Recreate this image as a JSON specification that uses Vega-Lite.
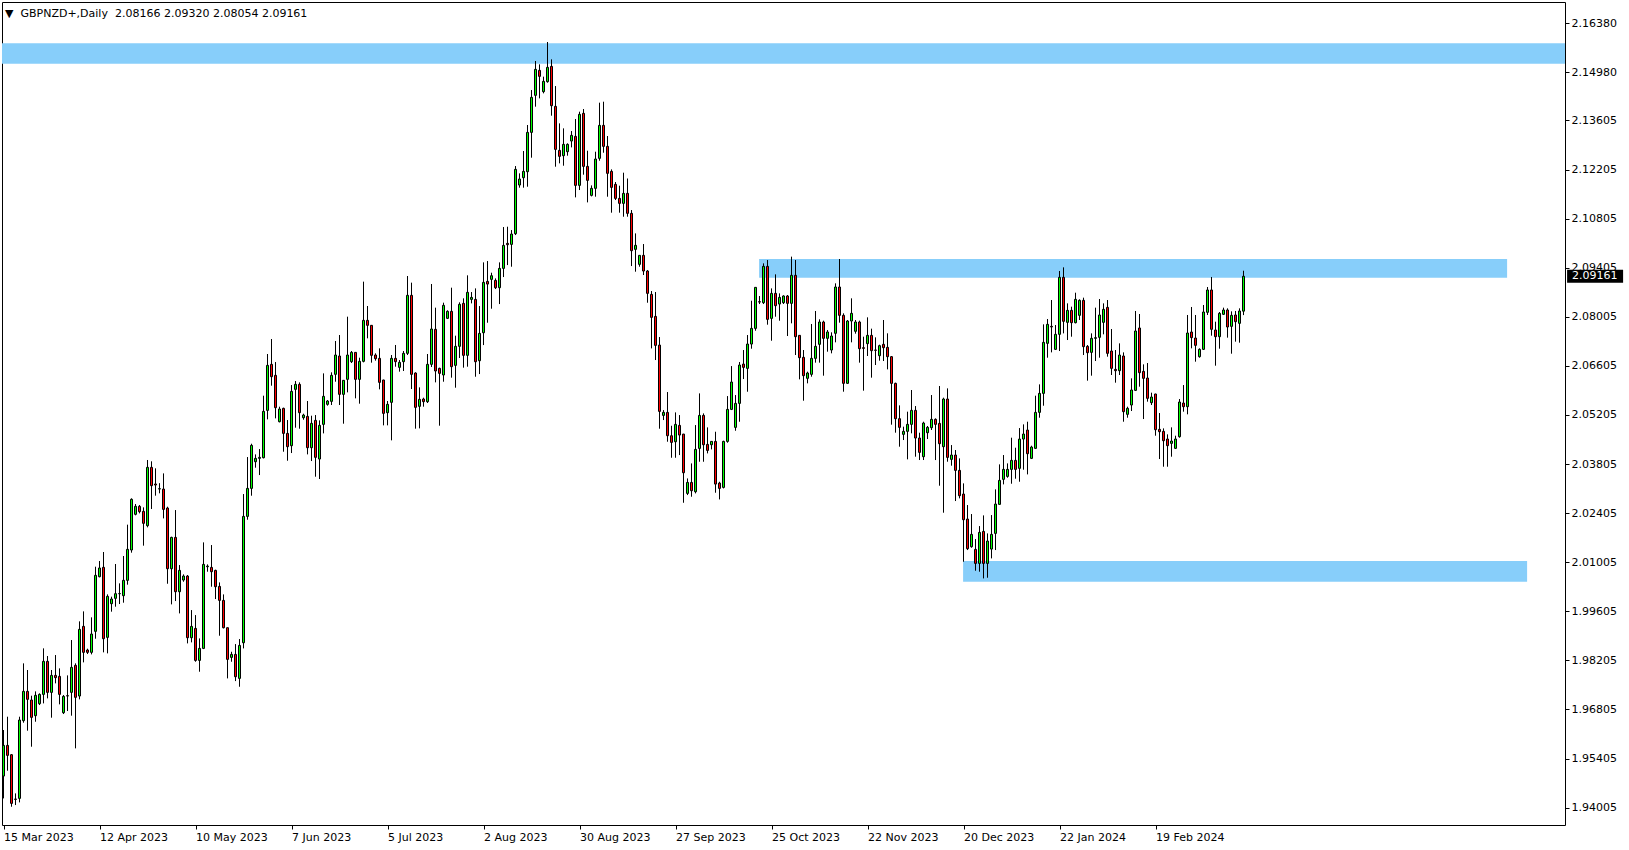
{
  "$schema": "https://vega.github.io/schema/vega-lite/v6.json",
  "width": 1563,
  "height": 823,
  "padding": {"left": 2, "top": 2, "right": 64, "bottom": 25},
  "autosize": {"type": "none"},
  "background": "white",
  "config": {
    "view": {"stroke": "black", "strokeWidth": 1},
    "font": "DejaVu Sans",
    "axis": {
      "labelFont": "DejaVu Sans",
      "labelFontSize": 11,
      "labelColor": "black",
      "labelPadding": 2,
      "labelOverlap": false,
      "labelFlush": false,
      "tickColor": "black",
      "tickSize": 4,
      "domain": false,
      "grid": false
    }
  },
  "title": {
    "text": "▼\u00a0\u00a0GBPNZD+,Daily\u00a0\u00a02.08166 2.09320 2.08054 2.09161",
    "anchor": "start",
    "frame": "group",
    "orient": "top",
    "offset": -26,
    "dx": 3,
    "font": "DejaVu Sans",
    "fontSize": 11,
    "fontWeight": "normal",
    "color": "black",
    "baseline": "alphabetic"
  },
  "datasets": {
    "candles": [
      {"i":0,"o":1.94905,"h":1.96218,"l":1.94268,"c":1.95780},
      {"i":1,"o":1.95780,"h":1.96598,"l":1.95057,"c":1.95495},
      {"i":2,"o":1.95514,"h":1.95533,"l":1.94030,"c":1.94126},
      {"i":3,"o":1.94249,"h":1.94411,"l":1.94078,"c":1.94240},
      {"i":4,"o":1.94268,"h":1.96598,"l":1.94154,"c":1.96503},
      {"i":5,"o":1.96484,"h":1.98120,"l":1.96427,"c":1.97321},
      {"i":6,"o":1.97321,"h":1.97930,"l":1.96199,"c":1.97093},
      {"i":7,"o":1.97074,"h":1.97197,"l":1.95742,"c":1.96579},
      {"i":8,"o":1.96627,"h":1.97321,"l":1.96455,"c":1.97207},
      {"i":9,"o":1.96969,"h":1.97264,"l":1.96931,"c":1.97235},
      {"i":10,"o":1.97235,"h":1.98548,"l":1.96978,"c":1.98177},
      {"i":11,"o":1.98177,"h":1.98329,"l":1.97121,"c":1.97292},
      {"i":12,"o":1.97292,"h":1.97930,"l":1.96570,"c":1.97777},
      {"i":13,"o":1.97777,"h":1.98357,"l":1.97549,"c":1.97711},
      {"i":14,"o":1.97749,"h":1.97977,"l":1.96950,"c":1.97235},
      {"i":15,"o":1.96712,"h":1.97216,"l":1.96674,"c":1.97178},
      {"i":16,"o":1.97197,"h":1.97777,"l":1.96760,"c":1.97190},
      {"i":17,"o":1.97292,"h":1.98785,"l":1.96627,"c":1.98006},
      {"i":18,"o":1.98063,"h":1.98120,"l":1.95695,"c":1.97150},
      {"i":19,"o":1.97188,"h":1.99318,"l":1.97093,"c":1.99090},
      {"i":20,"o":1.99175,"h":1.99603,"l":1.98148,"c":1.98434},
      {"i":21,"o":1.98500,"h":1.98538,"l":1.98386,"c":1.98434},
      {"i":22,"o":1.98434,"h":1.99432,"l":1.98376,"c":1.98956},
      {"i":23,"o":1.99033,"h":2.00877,"l":1.98823,"c":2.00630},
      {"i":24,"o":2.00592,"h":2.01039,"l":2.00573,"c":2.00840},
      {"i":25,"o":2.00859,"h":2.01296,"l":1.98434,"c":1.98823},
      {"i":26,"o":1.98861,"h":2.00088,"l":1.98405,"c":2.00031},
      {"i":27,"o":1.99822,"h":2.00022,"l":1.99594,"c":1.99955},
      {"i":28,"o":1.99974,"h":2.00954,"l":1.99736,"c":2.00107},
      {"i":29,"o":2.00107,"h":2.00402,"l":1.99812,"c":2.00110},
      {"i":30,"o":2.00050,"h":2.01182,"l":1.99850,"c":2.00488},
      {"i":31,"o":2.00488,"h":2.02076,"l":2.00364,"c":2.01372},
      {"i":32,"o":2.01353,"h":2.02827,"l":2.01277,"c":2.02799},
      {"i":33,"o":2.02371,"h":2.02665,"l":2.02342,"c":2.02599},
      {"i":34,"o":2.02599,"h":2.02637,"l":2.02399,"c":2.02447},
      {"i":35,"o":2.02456,"h":2.02570,"l":2.01477,"c":2.02114},
      {"i":36,"o":2.02047,"h":2.03921,"l":2.02000,"c":2.03711},
      {"i":37,"o":2.03711,"h":2.03883,"l":2.02523,"c":2.03188},
      {"i":38,"o":2.03236,"h":2.03683,"l":2.02903,"c":2.03207},
      {"i":39,"o":2.03093,"h":2.03260,"l":2.02970,"c":2.03102},
      {"i":40,"o":2.03092,"h":2.03539,"l":2.02255,"c":2.02512},
      {"i":41,"o":2.02550,"h":2.02588,"l":2.00391,"c":2.00819},
      {"i":42,"o":2.00819,"h":2.01732,"l":1.99802,"c":2.01713},
      {"i":43,"o":2.01713,"h":2.02493,"l":1.99897,"c":2.00163},
      {"i":44,"o":2.00163,"h":2.00924,"l":1.99545,"c":2.00772},
      {"i":45,"o":2.00496,"h":2.00658,"l":2.00448,"c":2.00610},
      {"i":46,"o":2.00610,"h":2.00639,"l":1.98689,"c":1.98851},
      {"i":47,"o":1.98851,"h":1.99640,"l":1.98718,"c":1.99174},
      {"i":48,"o":1.99117,"h":1.99497,"l":1.98166,"c":1.98204},
      {"i":49,"o":1.98204,"h":1.98832,"l":1.97881,"c":1.98546},
      {"i":50,"o":1.98546,"h":2.01571,"l":1.98527,"c":2.00943},
      {"i":51,"o":2.00876,"h":2.00943,"l":2.00734,"c":2.00895},
      {"i":52,"o":2.00857,"h":2.01495,"l":2.00306,"c":2.00734},
      {"i":53,"o":2.00772,"h":2.00791,"l":1.99954,"c":2.00306},
      {"i":54,"o":2.00315,"h":2.00429,"l":1.98908,"c":1.99916},
      {"i":55,"o":1.99916,"h":2.00087,"l":1.99117,"c":1.99136},
      {"i":56,"o":1.99136,"h":1.99140,"l":1.97691,"c":1.98233},
      {"i":57,"o":1.98290,"h":1.98451,"l":1.98166,"c":1.98375},
      {"i":58,"o":1.98375,"h":1.98670,"l":1.97614,"c":1.97738},
      {"i":59,"o":1.97691,"h":1.98813,"l":1.97453,"c":1.98632},
      {"i":60,"o":1.98708,"h":2.02949,"l":1.98546,"c":2.02312},
      {"i":61,"o":2.02312,"h":2.04005,"l":2.02217,"c":2.03111},
      {"i":62,"o":2.03111,"h":2.04385,"l":2.02902,"c":2.04338},
      {"i":63,"o":2.03872,"h":2.04081,"l":2.03701,"c":2.03967},
      {"i":64,"o":2.03967,"h":2.04233,"l":2.03491,"c":2.03996},
      {"i":65,"o":2.03986,"h":2.05755,"l":2.03967,"c":2.05308},
      {"i":66,"o":2.05336,"h":2.06944,"l":2.05080,"c":2.06620},
      {"i":67,"o":2.06649,"h":2.07372,"l":2.06040,"c":2.06297},
      {"i":68,"o":2.06335,"h":2.06715,"l":2.05108,"c":2.05413},
      {"i":69,"o":2.05013,"h":2.05441,"l":2.04994,"c":2.05375},
      {"i":70,"o":2.05394,"h":2.05413,"l":2.04157,"c":2.04680},
      {"i":71,"o":2.04680,"h":2.05061,"l":2.03900,"c":2.04300},
      {"i":72,"o":2.04328,"h":2.06059,"l":2.04119,"c":2.05878},
      {"i":73,"o":2.05936,"h":2.06173,"l":2.04842,"c":2.06078},
      {"i":74,"o":2.06078,"h":2.06135,"l":2.04813,"c":2.05270},
      {"i":75,"o":2.05127,"h":2.05241,"l":2.05070,"c":2.05203},
      {"i":76,"o":2.05165,"h":2.05603,"l":2.04081,"c":2.04271},
      {"i":77,"o":2.04271,"h":2.05184,"l":2.03891,"c":2.04966},
      {"i":78,"o":2.05051,"h":2.05203,"l":2.03444,"c":2.03996},
      {"i":79,"o":2.03948,"h":2.05051,"l":2.03378,"c":2.04909},
      {"i":80,"o":2.04937,"h":2.06392,"l":2.04680,"c":2.05736},
      {"i":81,"o":2.05508,"h":2.05631,"l":2.05470,"c":2.05603},
      {"i":82,"o":2.05593,"h":2.06421,"l":2.05489,"c":2.06335},
      {"i":83,"o":2.06364,"h":2.07315,"l":2.06154,"c":2.06915},
      {"i":84,"o":2.06887,"h":2.07486,"l":2.05489,"c":2.05793},
      {"i":85,"o":2.05793,"h":2.06202,"l":2.04956,"c":2.06193},
      {"i":86,"o":2.06221,"h":2.08009,"l":2.05850,"c":2.06915},
      {"i":87,"o":2.06725,"h":2.07029,"l":2.06687,"c":2.06991},
      {"i":88,"o":2.06991,"h":2.06995,"l":2.05679,"c":2.06221},
      {"i":89,"o":2.06221,"h":2.06839,"l":2.05527,"c":2.06735},
      {"i":90,"o":2.06735,"h":2.09008,"l":2.06706,"c":2.07904},
      {"i":91,"o":2.07904,"h":2.08313,"l":2.07391,"c":2.07762},
      {"i":92,"o":2.07762,"h":2.07771,"l":2.06697,"c":2.06906},
      {"i":93,"o":2.06915,"h":2.06963,"l":2.06754,"c":2.06811},
      {"i":94,"o":2.06820,"h":2.07106,"l":2.05936,"c":2.06135},
      {"i":95,"o":2.06202,"h":2.06210,"l":2.04909,"c":2.05251},
      {"i":96,"o":2.05270,"h":2.05603,"l":2.04909,"c":2.05508},
      {"i":97,"o":2.05565,"h":2.06915,"l":2.04481,"c":2.06820},
      {"i":98,"o":2.06820,"h":2.07201,"l":2.06582,"c":2.06725},
      {"i":99,"o":2.06563,"h":2.06772,"l":2.06440,"c":2.06706},
      {"i":100,"o":2.06725,"h":2.07029,"l":2.06459,"c":2.06963},
      {"i":101,"o":2.06963,"h":2.09169,"l":2.06915,"c":2.08618},
      {"i":102,"o":2.08618,"h":2.08979,"l":2.05945,"c":2.06364},
      {"i":103,"o":2.06402,"h":2.06421,"l":2.04814,"c":2.05422},
      {"i":104,"o":2.05451,"h":2.05993,"l":2.04823,"c":2.05651},
      {"i":105,"o":2.05660,"h":2.05698,"l":2.05441,"c":2.05584},
      {"i":106,"o":2.05584,"h":2.06944,"l":2.05546,"c":2.06649},
      {"i":107,"o":2.06649,"h":2.08941,"l":2.06573,"c":2.07657},
      {"i":108,"o":2.07648,"h":2.08266,"l":2.06135,"c":2.06459},
      {"i":109,"o":2.06535,"h":2.06554,"l":2.04899,"c":2.06392},
      {"i":110,"o":2.06345,"h":2.08408,"l":2.06154,"c":2.08332},
      {"i":111,"o":2.07961,"h":2.08190,"l":2.07942,"c":2.08161},
      {"i":112,"o":2.08161,"h":2.08836,"l":2.06269,"c":2.06582},
      {"i":113,"o":2.06620,"h":2.07467,"l":2.05983,"c":2.07163},
      {"i":114,"o":2.07163,"h":2.08418,"l":2.06830,"c":2.08361},
      {"i":115,"o":2.08389,"h":2.08532,"l":2.06554,"c":2.06906},
      {"i":116,"o":2.06906,"h":2.09188,"l":2.06582,"c":2.08703},
      {"i":117,"o":2.08502,"h":2.08711,"l":2.08388,"c":2.08559},
      {"i":118,"o":2.08502,"h":2.08816,"l":2.06296,"c":2.06724},
      {"i":119,"o":2.06752,"h":2.08312,"l":2.06372,"c":2.07532},
      {"i":120,"o":2.07551,"h":2.09558,"l":2.07199,"c":2.08987},
      {"i":121,"o":2.09016,"h":2.09596,"l":2.07836,"c":2.08939},
      {"i":122,"o":2.09073,"h":2.09263,"l":2.08236,"c":2.09177},
      {"i":123,"o":2.09044,"h":2.09101,"l":2.08797,"c":2.08835},
      {"i":124,"o":2.08835,"h":2.09558,"l":2.08369,"c":2.09386},
      {"i":125,"o":2.09386,"h":2.10566,"l":2.09139,"c":2.10042},
      {"i":126,"o":2.10100,"h":2.10575,"l":2.09481,"c":2.10062},
      {"i":127,"o":2.10071,"h":2.10480,"l":2.09434,"c":2.10366},
      {"i":128,"o":2.10375,"h":2.12306,"l":2.10337,"c":2.12211},
      {"i":129,"o":2.11764,"h":2.12097,"l":2.11688,"c":2.11935},
      {"i":130,"o":2.11973,"h":2.12734,"l":2.11688,"c":2.12154},
      {"i":131,"o":2.12144,"h":2.13476,"l":2.11716,"c":2.13266},
      {"i":132,"o":2.13266,"h":2.14474,"l":2.12544,"c":2.14265},
      {"i":133,"o":2.14322,"h":2.15302,"l":2.13999,"c":2.15064},
      {"i":134,"o":2.15035,"h":2.15206,"l":2.14236,"c":2.14864},
      {"i":135,"o":2.14427,"h":2.14855,"l":2.14379,"c":2.14721},
      {"i":136,"o":2.14712,"h":2.15844,"l":2.14683,"c":2.15121},
      {"i":137,"o":2.15149,"h":2.15349,"l":2.13742,"c":2.14027},
      {"i":138,"o":2.14008,"h":2.14588,"l":2.12287,"c":2.12781},
      {"i":139,"o":2.12753,"h":2.13523,"l":2.12382,"c":2.12582},
      {"i":140,"o":2.12601,"h":2.13381,"l":2.12315,"c":2.12924},
      {"i":141,"o":2.12715,"h":2.12953,"l":2.12601,"c":2.12924},
      {"i":142,"o":2.13019,"h":2.13304,"l":2.12838,"c":2.13181},
      {"i":143,"o":2.13152,"h":2.13647,"l":2.11412,"c":2.11754},
      {"i":144,"o":2.11754,"h":2.13856,"l":2.11621,"c":2.13780},
      {"i":145,"o":2.13809,"h":2.13932,"l":2.12059,"c":2.12296},
      {"i":146,"o":2.12296,"h":2.12743,"l":2.11269,"c":2.11897},
      {"i":147,"o":2.11469,"h":2.11754,"l":2.11440,"c":2.11669},
      {"i":148,"o":2.11669,"h":2.12715,"l":2.11431,"c":2.12506},
      {"i":149,"o":2.12525,"h":2.14113,"l":2.12458,"c":2.13466},
      {"i":150,"o":2.13466,"h":2.14141,"l":2.12686,"c":2.12867},
      {"i":151,"o":2.12867,"h":2.13162,"l":2.11431,"c":2.12097},
      {"i":152,"o":2.12154,"h":2.12211,"l":2.10975,"c":2.11697},
      {"i":153,"o":2.11783,"h":2.11850,"l":2.11336,"c":2.11383},
      {"i":154,"o":2.11383,"h":2.11745,"l":2.10975,"c":2.11241},
      {"i":155,"o":2.11241,"h":2.12116,"l":2.10860,"c":2.11526},
      {"i":156,"o":2.11527,"h":2.11950,"l":2.10861,"c":2.10956},
      {"i":157,"o":2.10956,"h":2.11051,"l":2.09453,"c":2.09891},
      {"i":158,"o":2.09929,"h":2.10385,"l":2.09292,"c":2.10043},
      {"i":159,"o":2.09501,"h":2.09760,"l":2.09434,"c":2.09758},
      {"i":160,"o":2.09758,"h":2.10081,"l":2.09197,"c":2.09311},
      {"i":161,"o":2.09311,"h":2.09339,"l":2.08407,"c":2.08674},
      {"i":162,"o":2.08645,"h":2.08740,"l":2.07104,"c":2.07989},
      {"i":163,"o":2.08017,"h":2.08712,"l":2.06772,"c":2.07190},
      {"i":164,"o":2.07199,"h":2.07428,"l":2.04813,"c":2.05307},
      {"i":165,"o":2.05193,"h":2.05345,"l":2.05060,"c":2.05279},
      {"i":166,"o":2.05279,"h":2.05859,"l":2.04442,"c":2.04613},
      {"i":167,"o":2.04613,"h":2.04898,"l":2.03985,"c":2.04423},
      {"i":168,"o":2.04442,"h":2.05279,"l":2.03985,"c":2.04936},
      {"i":169,"o":2.04908,"h":2.05202,"l":2.04061,"c":2.04632},
      {"i":170,"o":2.04660,"h":2.04665,"l":2.02701,"c":2.03557},
      {"i":171,"o":2.02968,"h":2.03395,"l":2.02920,"c":2.03281},
      {"i":172,"o":2.03281,"h":2.03823,"l":2.02873,"c":2.03044},
      {"i":173,"o":2.03015,"h":2.04917,"l":2.02968,"c":2.04223},
      {"i":174,"o":2.04251,"h":2.05821,"l":2.03871,"c":2.05193},
      {"i":175,"o":2.05193,"h":2.05250,"l":2.03871,"c":2.04356},
      {"i":176,"o":2.04366,"h":2.04851,"l":2.04109,"c":2.04194},
      {"i":177,"o":2.04356,"h":2.04461,"l":2.04223,"c":2.04451},
      {"i":178,"o":2.04451,"h":2.04727,"l":2.02987,"c":2.03234},
      {"i":179,"o":2.03262,"h":2.03300,"l":2.02796,"c":2.03110},
      {"i":180,"o":2.03139,"h":2.04470,"l":2.03110,"c":2.04451},
      {"i":181,"o":2.04451,"h":2.05744,"l":2.04413,"c":2.05364},
      {"i":182,"o":2.05364,"h":2.06600,"l":2.05345,"c":2.06144},
      {"i":183,"o":2.04851,"h":2.05773,"l":2.04755,"c":2.05535},
      {"i":184,"o":2.05535,"h":2.06715,"l":2.05012,"c":2.06629},
      {"i":185,"o":2.06657,"h":2.07057,"l":2.06230,"c":2.06562},
      {"i":186,"o":2.06534,"h":2.07485,"l":2.05868,"c":2.07228},
      {"i":187,"o":2.07228,"h":2.08464,"l":2.07095,"c":2.07675},
      {"i":188,"o":2.07675,"h":2.08850,"l":2.07608,"c":2.08845},
      {"i":189,"o":2.08436,"h":2.08598,"l":2.08369,"c":2.08426},
      {"i":190,"o":2.08407,"h":2.09530,"l":2.08369,"c":2.09444},
      {"i":191,"o":2.09444,"h":2.09625,"l":2.07780,"c":2.07932},
      {"i":192,"o":2.07960,"h":2.08816,"l":2.07323,"c":2.08674},
      {"i":193,"o":2.08674,"h":2.09216,"l":2.08008,"c":2.08322},
      {"i":194,"o":2.08369,"h":2.08674,"l":2.07894,"c":2.08559},
      {"i":195,"o":2.08408,"h":2.08618,"l":2.08370,"c":2.08599},
      {"i":196,"o":2.08599,"h":2.08627,"l":2.07457,"c":2.08389},
      {"i":197,"o":2.08389,"h":2.09721,"l":2.07819,"c":2.09188},
      {"i":198,"o":2.09188,"h":2.09626,"l":2.06915,"c":2.07438},
      {"i":199,"o":2.07476,"h":2.07480,"l":2.06221,"c":2.06839},
      {"i":200,"o":2.06849,"h":2.07058,"l":2.05612,"c":2.06326},
      {"i":201,"o":2.06250,"h":2.06440,"l":2.06107,"c":2.06402},
      {"i":202,"o":2.06364,"h":2.07800,"l":2.06297,"c":2.06820},
      {"i":203,"o":2.06820,"h":2.08171,"l":2.06697,"c":2.07163},
      {"i":204,"o":2.07220,"h":2.07933,"l":2.06697,"c":2.07857},
      {"i":205,"o":2.07857,"h":2.07895,"l":2.06326,"c":2.07391},
      {"i":206,"o":2.07391,"h":2.07629,"l":2.07010,"c":2.07572},
      {"i":207,"o":2.07058,"h":2.07562,"l":2.06963,"c":2.07457},
      {"i":208,"o":2.07534,"h":2.08960,"l":2.07277,"c":2.08855},
      {"i":209,"o":2.08855,"h":2.09654,"l":2.07838,"c":2.08047},
      {"i":210,"o":2.08047,"h":2.08104,"l":2.05869,"c":2.06107},
      {"i":211,"o":2.06107,"h":2.07914,"l":2.06100,"c":2.07885},
      {"i":212,"o":2.07885,"h":2.08532,"l":2.07277,"c":2.08104},
      {"i":213,"o":2.07591,"h":2.07914,"l":2.07524,"c":2.07857},
      {"i":214,"o":2.07857,"h":2.07895,"l":2.06697,"c":2.07096},
      {"i":215,"o":2.07124,"h":2.07438,"l":2.05898,"c":2.07105},
      {"i":216,"o":2.07239,"h":2.07990,"l":2.06887,"c":2.07476},
      {"i":217,"o":2.07476,"h":2.07667,"l":2.06269,"c":2.07039},
      {"i":218,"o":2.07058,"h":2.07419,"l":2.06630,"c":2.07050},
      {"i":219,"o":2.06896,"h":2.07210,"l":2.06754,"c":2.07182},
      {"i":220,"o":2.07220,"h":2.07914,"l":2.06744,"c":2.07124},
      {"i":221,"o":2.07134,"h":2.07534,"l":2.06506,"c":2.06868},
      {"i":222,"o":2.06868,"h":2.06887,"l":2.04928,"c":2.06107},
      {"i":223,"o":2.06107,"h":2.06126,"l":2.04700,"c":2.05099},
      {"i":224,"o":2.05099,"h":2.05479,"l":2.04300,"c":2.04852},
      {"i":225,"o":2.04652,"h":2.04871,"l":2.04490,"c":2.04738},
      {"i":226,"o":2.04738,"h":2.05299,"l":2.03939,"c":2.04937},
      {"i":227,"o":2.04937,"h":2.05917,"l":2.04681,"c":2.05337},
      {"i":228,"o":2.05337,"h":2.05460,"l":2.04015,"c":2.04547},
      {"i":229,"o":2.04547,"h":2.04699,"l":2.03920,"c":2.04138},
      {"i":230,"o":2.04015,"h":2.05013,"l":2.03920,"c":2.04975},
      {"i":231,"o":2.04699,"h":2.04890,"l":2.04519,"c":2.04852},
      {"i":232,"o":2.04842,"h":2.05774,"l":2.04776,"c":2.05080},
      {"i":233,"o":2.05080,"h":2.05108,"l":2.03919,"c":2.04937},
      {"i":234,"o":2.04965,"h":2.06031,"l":2.03187,"c":2.04385},
      {"i":235,"o":2.04300,"h":2.05698,"l":2.02417,"c":2.05660},
      {"i":236,"o":2.05660,"h":2.05964,"l":2.03872,"c":2.03995},
      {"i":237,"o":2.03938,"h":2.04347,"l":2.03758,"c":2.04062},
      {"i":238,"o":2.04062,"h":2.04205,"l":2.02750,"c":2.03625},
      {"i":239,"o":2.03625,"h":2.03967,"l":2.02826,"c":2.02902},
      {"i":240,"o":2.02949,"h":2.03254,"l":2.01019,"c":2.02217},
      {"i":241,"o":2.02236,"h":2.02636,"l":2.01352,"c":2.01390},
      {"i":242,"o":2.01447,"h":2.02379,"l":2.01418,"c":2.01799},
      {"i":243,"o":2.01371,"h":2.01665,"l":2.00762,"c":2.00971},
      {"i":244,"o":2.00971,"h":2.02036,"l":2.00734,"c":2.01856},
      {"i":245,"o":2.01884,"h":2.02341,"l":2.00543,"c":2.00971},
      {"i":246,"o":2.00971,"h":2.01827,"l":2.00562,"c":2.01608},
      {"i":247,"o":2.01380,"h":2.02350,"l":2.01114,"c":2.01799},
      {"i":248,"o":2.01827,"h":2.03083,"l":2.01352,"c":2.02664},
      {"i":249,"o":2.02655,"h":2.03796,"l":2.02650,"c":2.03339},
      {"i":250,"o":2.03368,"h":2.04062,"l":2.03225,"c":2.03653},
      {"i":251,"o":2.03453,"h":2.03824,"l":2.03415,"c":2.03653},
      {"i":252,"o":2.03653,"h":2.04557,"l":2.03244,"c":2.03910},
      {"i":253,"o":2.03910,"h":2.04271,"l":2.03387,"c":2.03653},
      {"i":254,"o":2.03682,"h":2.04832,"l":2.03301,"c":2.04518},
      {"i":255,"o":2.04518,"h":2.04937,"l":2.03644,"c":2.04661},
      {"i":256,"o":2.04775,"h":2.05013,"l":2.03510,"c":2.04100},
      {"i":257,"o":2.03967,"h":2.04328,"l":2.03948,"c":2.04290},
      {"i":258,"o":2.04252,"h":2.05755,"l":2.04243,"c":2.05279},
      {"i":259,"o":2.05279,"h":2.06078,"l":2.05127,"c":2.05821},
      {"i":260,"o":2.05821,"h":2.07790,"l":2.05469,"c":2.07276},
      {"i":261,"o":2.07248,"h":2.07942,"l":2.06839,"c":2.07790},
      {"i":262,"o":2.07733,"h":2.08484,"l":2.06991,"c":2.07714},
      {"i":263,"o":2.07077,"h":2.07771,"l":2.07058,"c":2.07505},
      {"i":264,"o":2.07505,"h":2.09312,"l":2.07029,"c":2.09131},
      {"i":265,"o":2.09131,"h":2.09416,"l":2.07533,"c":2.07876},
      {"i":266,"o":2.07847,"h":2.08389,"l":2.07343,"c":2.08189},
      {"i":267,"o":2.08189,"h":2.08294,"l":2.07438,"c":2.07837},
      {"i":268,"o":2.07837,"h":2.08693,"l":2.07818,"c":2.08503},
      {"i":269,"o":2.08047,"h":2.08503,"l":2.07914,"c":2.08475},
      {"i":270,"o":2.08475,"h":2.08551,"l":2.06915,"c":2.07153},
      {"i":271,"o":2.07162,"h":2.07200,"l":2.06183,"c":2.06981},
      {"i":272,"o":2.06991,"h":2.07533,"l":2.06326,"c":2.07391},
      {"i":273,"o":2.07391,"h":2.08266,"l":2.06744,"c":2.07410},
      {"i":274,"o":2.07419,"h":2.08513,"l":2.06839,"c":2.08057},
      {"i":275,"o":2.07847,"h":2.08389,"l":2.07505,"c":2.08218},
      {"i":276,"o":2.08275,"h":2.08484,"l":2.06868,"c":2.06963},
      {"i":277,"o":2.07029,"h":2.07657,"l":2.06345,"c":2.06535},
      {"i":278,"o":2.06506,"h":2.07058,"l":2.06126,"c":2.06468},
      {"i":279,"o":2.06468,"h":2.07248,"l":2.06345,"c":2.06915},
      {"i":280,"o":2.06887,"h":2.06991,"l":2.05013,"c":2.05299},
      {"i":281,"o":2.05223,"h":2.05441,"l":2.05127,"c":2.05394},
      {"i":282,"o":2.05489,"h":2.06250,"l":2.05318,"c":2.05917},
      {"i":283,"o":2.05907,"h":2.08171,"l":2.05888,"c":2.07600},
      {"i":284,"o":2.07686,"h":2.08085,"l":2.06012,"c":2.06411},
      {"i":285,"o":2.06449,"h":2.06649,"l":2.05089,"c":2.06250},
      {"i":286,"o":2.06259,"h":2.06687,"l":2.05584,"c":2.05679},
      {"i":287,"o":2.05555,"h":2.05841,"l":2.05489,"c":2.05717},
      {"i":288,"o":2.05803,"h":2.05810,"l":2.04614,"c":2.04785},
      {"i":289,"o":2.04795,"h":2.05261,"l":2.03948,"c":2.04728},
      {"i":290,"o":2.04738,"h":2.04823,"l":2.03729,"c":2.04471},
      {"i":291,"o":2.04519,"h":2.04652,"l":2.03729,"c":2.04329},
      {"i":292,"o":2.04395,"h":2.04852,"l":2.04015,"c":2.04462},
      {"i":293,"o":2.04253,"h":2.04614,"l":2.04234,"c":2.04519},
      {"i":294,"o":2.04585,"h":2.05660,"l":2.04557,"c":2.05574},
      {"i":295,"o":2.05546,"h":2.06059,"l":2.05299,"c":2.05441},
      {"i":296,"o":2.05441,"h":2.08057,"l":2.05223,"c":2.07543},
      {"i":297,"o":2.07571,"h":2.08285,"l":2.07106,"c":2.07410},
      {"i":298,"o":2.07400,"h":2.08057,"l":2.06725,"c":2.07191},
      {"i":299,"o":2.06868,"h":2.07106,"l":2.06839,"c":2.07077},
      {"i":300,"o":2.07077,"h":2.08342,"l":2.07058,"c":2.08142},
      {"i":301,"o":2.08133,"h":2.08855,"l":2.08057,"c":2.08770},
      {"i":302,"o":2.08770,"h":2.09141,"l":2.07467,"c":2.07648},
      {"i":303,"o":2.07629,"h":2.07866,"l":2.06611,"c":2.07438},
      {"i":304,"o":2.07438,"h":2.08142,"l":2.07096,"c":2.08104},
      {"i":305,"o":2.08076,"h":2.08266,"l":2.08057,"c":2.08199},
      {"i":306,"o":2.08199,"h":2.08247,"l":2.07410,"c":2.07714},
      {"i":307,"o":2.07733,"h":2.08161,"l":2.06953,"c":2.08047},
      {"i":308,"o":2.08057,"h":2.08171,"l":2.07296,"c":2.07866},
      {"i":309,"o":2.07819,"h":2.08247,"l":2.07267,"c":2.08171},
      {"i":310,"o":2.08166,"h":2.09320,"l":2.08054,"c":2.09161}
    ],
    "zones": [
      {"x1": -2, "x2": 400, "p1": 2.15225, "p2": 2.15807},
      {"x1": 188.9, "x2": 375.9, "p1": 2.09121, "p2": 2.09654},
      {"x1": 239.9, "x2": 380.9, "p1": 2.00449, "p2": 2.01039}
    ],
    "last": [
      {"p": 2.09161, "label": "2.09161"}
    ]
  },
  "layer": [
    {
      "data": {"name": "zones"},
      "mark": {"type": "rect", "color": "#87CEFA", "clip": true},
      "encoding": {
        "x": {"field": "x1", "type": "quantitative", "scale": {"domain": [-0.375, 390.375], "nice": false, "zero": false, "padding": 0},
          "axis": {"orient": "bottom", "values": [0, 24, 48, 72, 96, 120, 144, 168, 192, 216, 240, 264, 288], "labelExpr": "['15 Mar 2023','12 Apr 2023','10 May 2023','7 Jun 2023','5 Jul 2023','2 Aug 2023','30 Aug 2023','27 Sep 2023','25 Oct 2023','22 Nov 2023','20 Dec 2023','22 Jan 2024','19 Feb 2024'][round(datum.value/24)]", "labelAlign": "left", "title": null}},
        "x2": {"field": "x2"},
        "y": {"field": "p1", "type": "quantitative", "scale": {"domain": [1.93509, 2.16985], "nice": false, "zero": false, "padding": 0},
          "axis": {"orient": "right", "values": [2.1638, 2.1498, 2.13605, 2.12205, 2.10805, 2.09405, 2.08005, 2.06605, 2.05205, 2.03805, 2.02405, 2.01005, 1.99605, 1.98205, 1.96805, 1.95405, 1.94005], "format": ".5f", "title": null}},
        "y2": {"field": "p2"}
      }
    },
    {
      "data": {"name": "candles"},
      "mark": {"type": "rule", "color": "black", "strokeWidth": 1, "clip": true},
      "encoding": {
        "x": {"field": "i", "type": "quantitative", "scale": {"domain": [-0.375, 390.375], "nice": false, "zero": false, "padding": 0},
          "axis": {"orient": "bottom", "values": [0, 24, 48, 72, 96, 120, 144, 168, 192, 216, 240, 264, 288], "labelExpr": "['15 Mar 2023','12 Apr 2023','10 May 2023','7 Jun 2023','5 Jul 2023','2 Aug 2023','30 Aug 2023','27 Sep 2023','25 Oct 2023','22 Nov 2023','20 Dec 2023','22 Jan 2024','19 Feb 2024'][round(datum.value/24)]", "labelAlign": "left", "title": null}},
        "y": {"field": "l", "type": "quantitative", "scale": {"domain": [1.93509, 2.16985], "nice": false, "zero": false, "padding": 0},
          "axis": {"orient": "right", "values": [2.1638, 2.1498, 2.13605, 2.12205, 2.10805, 2.09405, 2.08005, 2.06605, 2.05205, 2.03805, 2.02405, 2.01005, 1.99605, 1.98205, 1.96805, 1.95405, 1.94005], "format": ".5f", "title": null}},
        "y2": {"field": "h"}
      }
    },
    {
      "data": {"name": "candles"},
      "mark": {"type": "bar", "size": 2, "stroke": "black", "strokeWidth": 1, "clip": true},
      "encoding": {
        "x": {"field": "i", "type": "quantitative", "scale": {"domain": [-0.375, 390.375], "nice": false, "zero": false, "padding": 0},
          "axis": {"orient": "bottom", "values": [0, 24, 48, 72, 96, 120, 144, 168, 192, 216, 240, 264, 288], "labelExpr": "['15 Mar 2023','12 Apr 2023','10 May 2023','7 Jun 2023','5 Jul 2023','2 Aug 2023','30 Aug 2023','27 Sep 2023','25 Oct 2023','22 Nov 2023','20 Dec 2023','22 Jan 2024','19 Feb 2024'][round(datum.value/24)]", "labelAlign": "left", "title": null}},
        "y": {"field": "o", "type": "quantitative", "scale": {"domain": [1.93509, 2.16985], "nice": false, "zero": false, "padding": 0},
          "axis": {"orient": "right", "values": [2.1638, 2.1498, 2.13605, 2.12205, 2.10805, 2.09405, 2.08005, 2.06605, 2.05205, 2.03805, 2.02405, 2.01005, 1.99605, 1.98205, 1.96805, 1.95405, 1.94005], "format": ".5f", "title": null}},
        "y2": {"field": "c"},
        "fill": {
          "condition": {"test": "datum.c >= datum.o", "value": "#00FF00"},
          "value": "#FF0000"
        }
      }
    },
    {
      "data": {"name": "last"},
      "mark": {"type": "bar", "size": 13, "color": "black", "clip": false},
      "encoding": {
        "x": {"datum": 390.9, "type": "quantitative", "scale": {"domain": [-0.375, 390.375], "nice": false, "zero": false, "padding": 0},
          "axis": {"orient": "bottom", "values": [0, 24, 48, 72, 96, 120, 144, 168, 192, 216, 240, 264, 288], "labelExpr": "['15 Mar 2023','12 Apr 2023','10 May 2023','7 Jun 2023','5 Jul 2023','2 Aug 2023','30 Aug 2023','27 Sep 2023','25 Oct 2023','22 Nov 2023','20 Dec 2023','22 Jan 2024','19 Feb 2024'][round(datum.value/24)]", "labelAlign": "left", "title": null}},
        "x2": {"datum": 404.9},
        "y": {"field": "p", "type": "quantitative", "scale": {"domain": [1.93509, 2.16985], "nice": false, "zero": false, "padding": 0},
          "axis": {"orient": "right", "values": [2.1638, 2.1498, 2.13605, 2.12205, 2.10805, 2.09405, 2.08005, 2.06605, 2.05205, 2.03805, 2.02405, 2.01005, 1.99605, 1.98205, 1.96805, 1.95405, 1.94005], "format": ".5f", "title": null}}
      }
    },
    {
      "data": {"name": "last"},
      "mark": {"type": "text", "color": "white", "align": "left", "baseline": "middle", "font": "DejaVu Sans", "fontSize": 11, "clip": false},
      "encoding": {
        "x": {"datum": 392.1, "type": "quantitative", "scale": {"domain": [-0.375, 390.375], "nice": false, "zero": false, "padding": 0},
          "axis": {"orient": "bottom", "values": [0, 24, 48, 72, 96, 120, 144, 168, 192, 216, 240, 264, 288], "labelExpr": "['15 Mar 2023','12 Apr 2023','10 May 2023','7 Jun 2023','5 Jul 2023','2 Aug 2023','30 Aug 2023','27 Sep 2023','25 Oct 2023','22 Nov 2023','20 Dec 2023','22 Jan 2024','19 Feb 2024'][round(datum.value/24)]", "labelAlign": "left", "title": null}},
        "y": {"field": "p", "type": "quantitative", "scale": {"domain": [1.93509, 2.16985], "nice": false, "zero": false, "padding": 0},
          "axis": {"orient": "right", "values": [2.1638, 2.1498, 2.13605, 2.12205, 2.10805, 2.09405, 2.08005, 2.06605, 2.05205, 2.03805, 2.02405, 2.01005, 1.99605, 1.98205, 1.96805, 1.95405, 1.94005], "format": ".5f", "title": null}},
        "text": {"field": "label"}
      }
    }
  ]
}
